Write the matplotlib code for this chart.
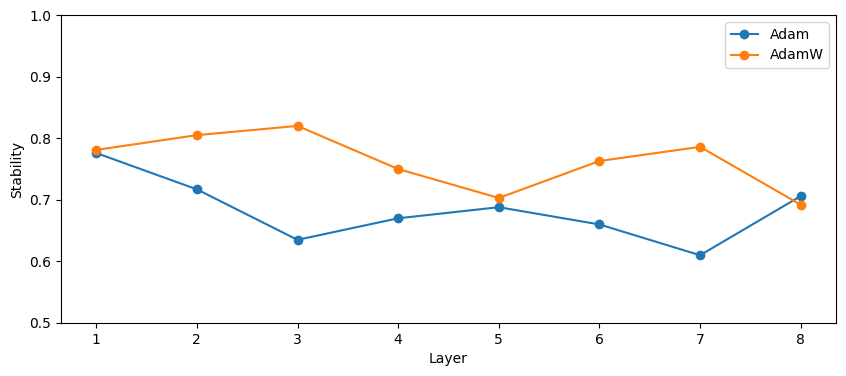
import matplotlib
matplotlib.use("Agg")
import matplotlib.pyplot as plt

# layer index and stability per optimizer
layers = [1, 2, 3, 4, 5, 6, 7, 8]
adam = [0.776, 0.717, 0.635, 0.670, 0.688, 0.660, 0.610, 0.706]
adamw = [0.781, 0.805, 0.820, 0.750, 0.703, 0.763, 0.786, 0.692]

fig = plt.figure(figsize=(8.46, 3.76), dpi=100)
ax = fig.add_axes([0.0721, 0.141, 0.916, 0.819])

ax.plot(layers, adam, marker="o", label="Adam")
ax.plot(layers, adamw, marker="o", label="AdamW")

ax.set_ylim(0.5, 1.0)
ax.set_xlabel("Layer")
ax.set_ylabel("Stability")
ax.legend(loc="upper right")

fig.savefig("out.png", dpi=100)
